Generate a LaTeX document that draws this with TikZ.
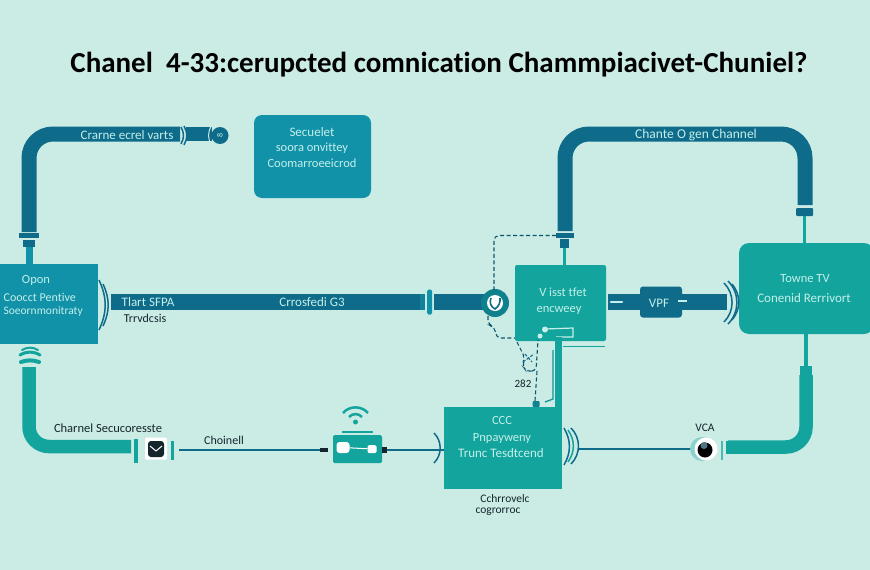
\documentclass[tikz,border=0pt]{standalone}
\usepackage{fontspec}
\setmainfont[Ligatures=NoCommon]{Carlito}
\usetikzlibrary{calc}
\definecolor{paper}{HTML}{CBEBE5}
\definecolor{deep}{HTML}{0E6B8A}
\definecolor{ocean}{HTML}{1192A8}
\definecolor{lagoon}{HTML}{13A59D}
\definecolor{pale}{HTML}{C4EFEA}
\definecolor{ink}{HTML}{14262C}
\tikzset{
  box/.style={inner sep=0pt,outer sep=0pt,anchor=north west},
  pipe/.style={line width=15pt,rounded corners=24pt,line cap=butt},
  tealpipe/.style={line width=13.5pt,rounded corners=20pt,line cap=butt},
  wire/.style={line width=1.2pt,deep},
  dashwire/.style={line width=1.1pt,deep!80!black,dash pattern=on 4pt off 2.5pt,rounded corners=5pt},
  lighttext/.style={text=pale,font=\fontsize{12.5}{14}\selectfont,inner sep=0pt},
  darktext/.style={text=ink,font=\fontsize{12.5}{14}\selectfont,inner sep=0pt},
  flange/.style={inner sep=0pt,outer sep=0pt},
  ripple/.style={line width=1.5pt},
}
\begin{document}
\begin{tikzpicture}[x=1pt,y=-1pt]
\useasboundingbox (0,0) rectangle (870,570);
\clip (0,0) rectangle (870,570);
\fill[paper] (0,0) rectangle (870,570);

% Heading
\node[text=black,inner sep=0pt,font=\fontsize{29}{32}\selectfont\bfseries] (title) at (439,65)
  {Chanel\ \ 4-33:cerupcted comnication Chammpiacivet-Chuniel?};

% Main blocks
\node[box,fill=ocean,minimum width=99pt,minimum height=80pt] (open) at (-1,264) {};
\node[box,fill=ocean,rounded corners=8pt,minimum width=117pt,minimum height=83pt] (secure) at (254,115) {};
\node[box,fill=lagoon,rounded corners=2pt,minimum width=91pt,minimum height=76pt] (visit) at (515,265) {};
\node[box,fill=lagoon,rounded corners=10pt,minimum width=135pt,minimum height=91pt] (towne) at (739,243) {};
\node[box,fill=lagoon,minimum width=118pt,minimum height=82pt] (ccc) at (444,407) {};

% Anchor points of the pipe runs
\coordinate (a1) at (29,232);
\coordinate (a2) at (180,134);
\coordinate (b1) at (565,231);
\coordinate (b2) at (805,205);
\coordinate (c1) at (29,367);
\coordinate (c2) at (131,446.5);
\coordinate (d1) at (806,375);
\coordinate (d2) at (728,447);

% Upper left pipe
\draw[pipe,deep] (a1) |- (a2);
\node[flange,fill=deep,minimum width=20pt,minimum height=5pt] (fa1) at (29,235.5) {};
\node[flange,fill=deep,minimum width=12pt,minimum height=7pt] (fa2) at (29,243.5) {};
\draw[line width=7pt,ocean] (fa2.south) -- (open.north -| fa2);
\draw[ripple,deep] (181,127) to[bend left=30] (181,144);
\draw[ripple,deep] (184,126) to[bend left=30] (184,145);
\node[box,fill=deep,minimum width=26pt,minimum height=14pt] (seg) at (186,127) {};
\node[circle,fill=deep,minimum size=17pt,inner sep=0pt] (capa) at (220,135.5) {};
\draw[line width=1pt,paper] (212,125) to[bend right=35] (212,146);
\node[text=pale,font=\fontsize{8}{8}\selectfont,rotate=90,inner sep=0pt] (capt) at (220,135.5) {8};

% Upper right pipe
\draw[pipe,deep] (b1) |- (805,134) -- (b2);
\node[flange,fill=deep,minimum width=18pt,minimum height=5.5pt] (fb1) at (565,235.5) {};
\node[flange,fill=deep,minimum width=9pt,minimum height=9pt] (fb2) at (564.5,243.5) {};
\draw[line width=3pt,lagoon] (fb2.south) -- (visit.north -| fb2);
\node[flange,fill=deep,rounded corners=1pt,minimum width=17pt,minimum height=8pt] (fb3) at (804.5,212) {};
\draw[line width=2.5pt,lagoon] (fb3.south) -- (towne.north -| fb3);

% Lower left pipe
\draw[tealpipe,lagoon] (c1) |- (c2);
\draw[line width=4pt,lagoon,line cap=round] (21,362) to[bend left=18] (39,362);
\draw[line width=3pt,lagoon,line cap=round] (20,355) to[bend left=30] (40,355);
\draw[line width=2pt,lagoon,line cap=round] (22,350) to[bend left=30] (38,350);

% Lower right pipe
\draw[tealpipe,lagoon] (d1) |- (d2);
\node[flange,fill=lagoon,minimum width=12pt,minimum height=9pt] (fd1) at (806,370) {};
\draw[line width=3.5pt,lagoon] (fd1.north) -- (towne.south -| fd1);
\draw[line width=2pt,lagoon] (727,441) -- (727,454);
\draw[line width=2pt,lagoon!70!paper] (722,441) -- (722,460);

% Central trunk
\node[box,fill=deep,minimum width=309pt,minimum height=16pt] (trunk) at (111,294) {};
\draw[line width=16pt,deep] (434,302) -- (485,302);
\node[flange,fill=ocean,rounded corners=1.5pt,minimum width=5pt,minimum height=25pt] (ftr) at (429.5,302) {};
\draw[line width=16pt,ocean!60!deep] (420,302) -- (425,302);
\draw[ripple,deep] (99,280) to[bend left=25] (99,330);
\draw[ripple,deep] (103,284) to[bend left=25] (103,326);
\node[circle,fill=ocean!70!lagoon!85!black,minimum size=28pt,inner sep=0pt] (hub) at (495,303) {};
\node[circle,fill=white,minimum size=16pt,inner sep=0pt] (hubin) at (495,303) {};
\draw[line width=1.6pt,deep] (491,298) to[bend right=45] (495,309) to[bend right=30] (500,298);

% Dashed loop around the hub
\draw[dashwire] (fb1.west) -| (494,285) -- (494,289);
\draw[dashwire] (488,316) -- (488,325) -- (495,327) -- (496,338) -- (visit.west |- 0,338);

% VPN link
\draw[line width=16pt,deep] (608,302) -- (727,302);
\node[box,fill=deep,rounded corners=3pt,minimum width=42pt,minimum height=31pt] (vpn) at (640,286.5) {};
\draw[line width=2.5pt,pale,line cap=round] (611,302) -- (622,302);
\draw[line width=1.5pt,pale] (678,301) -- (687,301);
\draw[ripple,deep] (724,283) to[bend left=45] (724,322);
\draw[ripple,deep] (728,281) to[bend left=45] (728,324);
\draw[ripple,deep] (732,284) to[bend left=40] (732,320);

% Fittings between the gateway and the lower block
\draw[line width=1.2pt,pale] (545,329) -- (573,328) -- (573,337) -- (556,337);
\node[circle,fill=pale,minimum size=6pt,inner sep=0pt] (fit1) at (545,329.5) {};
\node[circle,fill=pale,minimum size=5pt,inner sep=0pt] (fit2) at (540,336) {};
\draw[line width=1.5pt,lagoon] (563,346.5) -- (605,346.5);
\draw[line width=7pt,lagoon] (558.5,337) -- (558.5,407);
\draw[line width=1.3pt,lagoon!70!deep] (553,350) -- (553,399) -- (545,402);
\draw[dashwire] (517,342) -- (525,358) -- (522,365) -- (527,372) -- (536,371) -- (538,340);
\draw[dashwire] (537,371) -- (535,401);
\draw[line width=1pt,deep,dash pattern=on 3pt off 1.5pt] (523,362) -- (534,354);
\draw[line width=1pt,deep,dash pattern=on 3pt off 1.5pt] (525,354) -- (532,362);
\node[flange,fill=deep!60!lagoon,rounded corners=1pt,minimum width=7pt,minimum height=6pt] (nub) at (536,404) {};

% Ripples around the lower block
\draw[ripple,deep] (434,433) to[bend left=45] (434,463);
\draw[ripple,deep] (564,428) to[bend left=30] (564,465);
\draw[ripple,lagoon] (568,430) to[bend left=35] (568,462);
\draw[ripple,deep] (571,428) to[bend left=45] (571,464);

% Lower signal line, with its two terminals and the wireless device
\node[box,fill=lagoon,rounded corners=1.5pt,minimum width=49pt,minimum height=28pt] (dev) at (333,435) {};
\node[flange,fill=white,rounded corners=3pt,minimum width=13pt,minimum height=11pt] (dev1) at (343,447.5) {};
\node[flange,fill=white,rounded corners=1.5pt,minimum width=9pt,minimum height=8pt] (dev2) at (372,449) {};
\draw[line width=1pt,white] (dev1) -- (dev2);
\draw[line width=2pt,lagoon] (342,431.5) -- (373,431.5);
\node[circle,fill=lagoon,minimum size=5pt,inner sep=0pt] (wifi) at (355.5,422) {};
\draw[line width=2.5pt,lagoon] (349,417) to[bend left=50] (362,417);
\draw[line width=2.5pt,lagoon] (343,413) to[bend left=50] (368,413);
\node[flange,fill=ink,minimum width=8pt,minimum height=4pt] (tipl) at (324,450) {};
\node[flange,fill=ink,minimum width=5pt,minimum height=6pt] (tipr) at (384.5,450) {};

\node[flange,fill=white,rounded corners=2pt,minimum width=22pt,minimum height=22pt] (lock) at (156,448.5) {};
\node[flange,fill=ink,rounded corners=3pt,minimum width=16pt,minimum height=16pt] (lockin) at (156,449) {};
\draw[line width=1pt,white] (150,446) -- (156,451) -- (162,446);
\draw[line width=4pt,lagoon] (135.5,439) -- (135.5,463);
\draw[line width=2.5pt,lagoon] (172.5,441) -- (172.5,460);
\coordinate (lineL) at (179,450);
\draw[wire] (lineL) -- (tipl.west);
\draw[wire] (tipr.east) -- (ccc.west |- tipr);

\node[circle,fill=lagoon!35!paper,minimum size=24pt,inner sep=0pt] (camh) at (702,449) {};
\node[circle,fill=white,minimum size=23pt,inner sep=0pt] (cam) at (706,449) {};
\node[circle,fill=black,minimum size=15pt,inner sep=0pt] (cam0) at (705,450) {};
\node[circle,fill=deep!45!gray,minimum size=7pt,inner sep=0pt] (cam1) at (704,445.5) {};
\coordinate (lineR) at (578,449);
\draw[wire] (lineR) -- (camh.west);

% Labels
\node[lighttext,font=\fontsize{13}{14}\selectfont] (t01) at (127,135) {Crarne ecrel varts};
\node[lighttext,font=\fontsize{13}{14}\selectfont] (t02) at (312,132) {Secuelet};
\node[lighttext] (t03) at (312,148) {soora onvittey};
\node[lighttext] (t04) at (312,163) {Coomarroeeicrod};
\node[lighttext] (t05) at (36,280) {Opon};
\node[lighttext,font=\fontsize{12}{14}\selectfont,anchor=east] (t06) at (76,297) {Coocct Pentive};
\node[lighttext,font=\fontsize{11.5}{14}\selectfont,anchor=east] (t07) at (83,311) {Soeornmonitraty};
\node[lighttext,font=\fontsize{13}{14}\selectfont] (t08) at (148,302) {Tlart SFPA};
\node[darktext,font=\fontsize{12}{14}\selectfont] (t09) at (145,318) {Trrvdcsis};
\node[lighttext,font=\fontsize{13}{14}\selectfont] (t10) at (312,302) {Crrosfedi G3};
\node[lighttext,font=\fontsize{13.5}{14}\selectfont] (t11) at (696,135) {Chante O gen Channel};
\node[lighttext] (t12) at (563,292) {V isst tfet};
\node[lighttext] (t13) at (559,310) {encweey};
\node[lighttext,font=\fontsize{13}{14}\selectfont] (t14) at (659,303) {VPF};
\node[lighttext] (t15) at (805,279) {Towne TV};
\node[lighttext,font=\fontsize{13}{14}\selectfont] (t16) at (804,298) {Conenid Rerrivort};
\node[darktext,font=\fontsize{12.5}{14}\selectfont] (t17) at (108,428) {Charnel Secucoresste};
\node[darktext,font=\fontsize{12}{14}\selectfont] (t18) at (224,440) {Choinell};
\node[darktext,font=\fontsize{11}{14}\selectfont] (t19) at (523,383.5) {282};
\node[lighttext] (t20) at (502,420) {CCC};
\node[lighttext] (t21) at (502,438) {Pnpayweny};
\node[lighttext,font=\fontsize{13}{14}\selectfont] (t22) at (501,453) {Trunc Tesdtcend};
\node[darktext,font=\fontsize{11.5}{14}\selectfont] (t23) at (505,499) {Cchrrovelc};
\node[darktext,font=\fontsize{11.5}{14}\selectfont] (t24) at (498,512) {cogrorroc};
\node[darktext,font=\fontsize{11.5}{14}\selectfont] (t25) at (705,428) {VCA};
\end{tikzpicture}
\end{document}
